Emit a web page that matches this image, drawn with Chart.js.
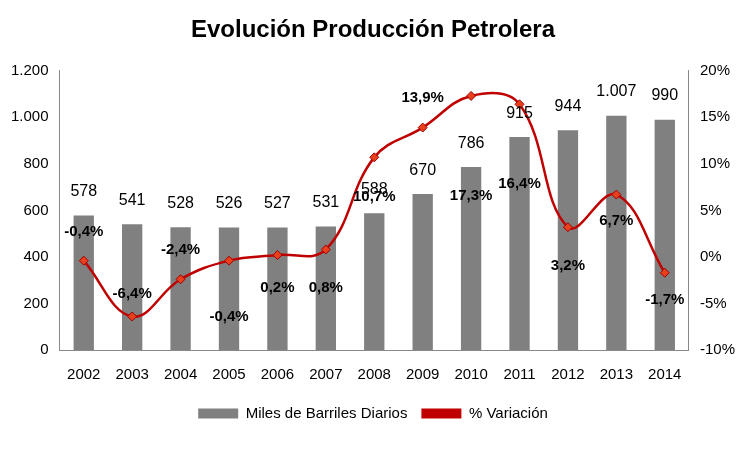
<!DOCTYPE html>
<html><head><meta charset="utf-8">
<script src="https://cdn.jsdelivr.net/npm/chart.js@4/dist/chart.umd.min.js"></script>
<style>body{margin:0;background:#fff}#wrap{width:750px;height:449px}</style>
</head><body><div id="wrap"><canvas id="c"></canvas></div>
<script>
const years = ['2002','2003','2004','2005','2006','2007','2008','2009','2010','2011','2012','2013','2014']
const barrels = [578, 541, 528, 526, 527, 531, 588, 670, 786, 915, 944, 1007, 990]
const variation = [-0.4, -6.4, -2.4, -0.4, 0.2, 0.8, 10.7, 13.9, 17.3, 16.4, 3.2, 6.7, -1.7]

const font = "'Liberation Sans Narrow', 'Liberation Sans', Arial, sans-serif"
Chart.defaults.font.family = font
Chart.defaults.color = '#000'

// label offsets for the % line (pixels from point)
const lineLabelDy = [-29, -23, -29, 56, 33, 38, 40, -30, 100, 80, 39, 26, 27]
const fmt = v => v.toFixed(1).replace('.', ',') + '%'
const thousands = v => v.toLocaleString('de-DE')

const labelPlugin = {
  id: 'labels',
  afterDatasetsDraw(chart) {
    const ctx = chart.ctx
    ctx.save()
    ctx.textAlign = 'center'
    ctx.textBaseline = 'middle'
    ctx.fillStyle = '#000'
    ctx.font = '16px ' + font
    chart.getDatasetMeta(0).data.forEach((b, i) => {
      ctx.fillText(thousands(barrels[i]), b.x, b.y - 24)
    })
    ctx.font = 'bold 15px ' + font
    chart.getDatasetMeta(1).data.forEach((p, i) => {
      ctx.fillText(fmt(variation[i]), p.x, p.y + lineLabelDy[i])
    })
    ctx.restore()
  }
}

new Chart(document.getElementById('c'), {
  data: {
    labels: years,
    datasets: [
      {type: 'bar', label: 'Miles de Barriles Diarios', data: barrels, backgroundColor: '#808080',
        yAxisID: 'y', barPercentage: 0.42, categoryPercentage: 1, order: 2},
      {type: 'line', label: '% Variación', data: variation, yAxisID: 'y1', borderColor: '#c00000',
        borderWidth: 2.5, backgroundColor: '#e8401c', pointBorderColor: '#a00000', pointStyle: 'rectRot',
        pointRadius: 4.5, pointBorderWidth: 1, tension: 0.4, order: 1}
    ]
  },
  options: {
    responsive: true,
    maintainAspectRatio: false,
    animation: false,
    layout: {padding: {left: 8, right: 12, top: 0, bottom: 18}},
    plugins: {
      title: {display: true, text: 'Evolución Producción Petrolera', font: {size: 24, weight: 'bold'}, padding: {top: 16, bottom: 26}},
      legend: {position: 'bottom', labels: {font: {size: 15}, boxWidth: 40, boxHeight: 10, padding: 14,
        generateLabels: ch => [
          {text: 'Miles de Barriles Diarios', fillStyle: '#808080', strokeStyle: '#808080', lineWidth: 0, datasetIndex: 0},
          {text: '% Variación', fillStyle: '#c00000', strokeStyle: '#c00000', lineWidth: 0, datasetIndex: 1}
        ]}},
      tooltip: {enabled: false}
    },
    scales: {
      x: {grid: {display: false}, border: {color: '#888'}, ticks: {font: {size: 15}, padding: 8}},
      y: {min: 0, max: 1200, ticks: {stepSize: 200, font: {size: 15}, callback: v => thousands(v)},
        grid: {display: false}, border: {color: '#888'}},
      y1: {position: 'right', min: -10, max: 20, ticks: {stepSize: 5, font: {size: 15}, callback: v => v + '%'},
        grid: {display: false}, border: {color: '#888'}}
    }
  },
  plugins: [labelPlugin]
})
</script></body></html>
